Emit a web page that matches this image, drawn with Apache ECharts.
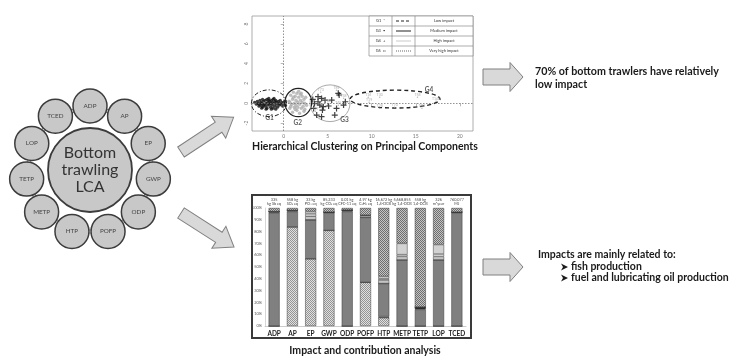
<!DOCTYPE html>
<html><head><meta charset="utf-8">
<script src="https://cdn.jsdelivr.net/npm/echarts@6/dist/echarts.min.js"></script>
<style>html,body{margin:0;padding:0;background:#fff}#c{width:736px;height:357px}</style>
</head><body><div id="c"></div><script>
// ---------- data ----------
const lcaCategories = ['ADP','AP','EP','GWP','ODP','POFP','HTP','METP','TETP','LOP','TCED'];
const lcaCenterLabel = 'Bottom\ntrawling\nLCA';

const pcaXTicks = [0,5,10,15,20];
const pcaYTicks = [-2,0,2,4,6,8];
const clusterG1 = [[-3.3,0.1],[-3.1,-0.1],[-3.0,0.2],[-2.9,0.0],[-2.8,-0.3],[-2.7,0.3],[-2.6,0.1],[-2.6,-0.2],[-2.5,0.0],[-2.4,0.4],[-2.4,-0.4],[-2.3,0.2],[-2.2,-0.1],[-2.1,0.3],[-2.1,-0.3],[-2.0,0.0],[-1.9,0.4],[-1.9,-0.5],[-1.8,0.1],[-1.8,-0.2],[-1.7,0.3],[-1.6,-0.1],[-1.6,0.2],[-1.5,-0.4],[-1.5,0.0],[-1.4,0.3],[-1.3,-0.2],[-1.3,0.1],[-1.2,0.4],[-1.2,-0.5],[-1.1,0.0],[-1.0,0.2],[-1.0,-0.3],[-0.9,0.3],[-0.8,-0.1],[-0.8,0.1],[-0.7,-0.4],[-0.6,0.2],[-0.5,0.0],[-0.5,-0.2],[-0.4,0.3],[-0.3,-0.1],[-0.2,0.1],[-0.1,-0.3],[0.0,0.0],[0.1,0.2],[0.2,-0.2],[-2.8,-0.1],[-2.3,-0.2],[-1.4,-0.6],[-2.0,-0.6],[-2.5,-0.5],[-0.9,-0.6],[-1.7,0.5],[-1.1,0.5]];
const clusterG2 = [[0.6,0.2],[0.7,-0.5],[0.8,0.8],[0.9,-0.1],[1.0,0.4],[1.0,-0.9],[1.1,1.1],[1.2,0.0],[1.2,-0.4],[1.3,0.7],[1.4,-0.2],[1.4,0.3],[1.5,-0.7],[1.5,1.0],[1.6,0.1],[1.6,-0.4],[1.7,0.6],[1.8,-0.1],[1.8,-1.0],[1.9,0.9],[1.9,0.3],[2.0,-0.5],[2.1,0.1],[2.1,0.7],[2.2,-0.3],[2.3,0.4],[2.3,-0.8],[2.4,0.0],[2.5,0.6],[2.6,-0.2],[0.8,-0.3],[1.3,-0.6],[1.7,1.2],[2.0,1.0],[1.1,0.6],[0.7,0.1],[2.4,-0.6]];
const clusterG3 = [[3.3,0.39],[3.9,0.66],[4.3,0.49],[4.7,0.32],[3.4,-0.52],[4.1,-0.18],[4.4,-0.69],[3.75,-1.19],[4.3,-1.36],[5.45,0.32],[6.2,1.0],[6.3,0.83],[6.0,-0.52],[5.8,-1.19],[7.0,0.15],[6.8,-0.18],[4.5,-0.35],[5.1,-0.28],[3.9,0.15],[3.5,-0.03]];
const sampleLabels = ['T73','T89','T60','T38','T27','T45','T16','T30','T19','T28','T70','T58','T82','T140'];
const samplePos = [[4.2,1.1],[6.0,1.3],[5.0,0.0],[6.8,0.5],[3.6,-0.8],[6.2,-0.2],[9.6,0.6],[10.9,0.6],[9.7,0.1],[10.9,-0.5],[12.6,-0.4],[15.2,0.6],[15.7,-0.5],[17.3,0.2]];
const clusterEllipses = [[-1.67,0.0,2.0,1.35],[1.66,0.07,1.52,1.43],[5.26,0.0,2.27,1.85],[12.65,0.42,5.1,0.9]];
const clusterNames = ['G1','G2','G3','G4'];
const clusterLabelPos = [[-1.6,-1.5],[1.6,-2.0],[6.9,-1.7],[16.5,1.3]];
const legendGroups = ['G1  *','G3  \u2022','G4  +','G5  \u25A1'];
const legendImpacts = ['Low impact','Medium impact','High impact','Very high impact'];

const impactCats = ['ADP','AP','EP','GWP','ODP','POFP','HTP','METP','TETP','LOP','TCED'];
const impactTotals = ['335\nkg Sb eq','558 kg\nSO\u2082 eq','33 kg\nPO\u2084 eq','85,233\nkg CO\u2082 eq','0.01 kg\nCFC-11 eq','4.97 kg\nC\u2082H\u2084 eq','16,672 kg\n1,4-DCB','5,668,855\nkg 1,4-DCB','558 kg\n1,4-DCB','326\nm\u00B2year','760,077\nMJ'];
const shareOnboard   = [0,84,57,81,0,37,7,0,0,0,0];
const shareBlackLow  = [0,0,0,0,0,0,1,0,0,0,0];
const shareDark      = [96,13,33,15,97,55,28,56,14,56,96];
const shareBlackMid  = [1,1,0,0.5,1.2,0,0,0,2,0,0.5];
const shareLight1    = [0,0,3,0,0,1.5,3,3,0,3,0];
const shareWhite     = [0,0,2,0,0,0.5,1,1.5,0,2,0];
const shareLight2    = [0,0,2,0,0,0,2,9.5,0,8,0];
const shareTop       = [3,2,3,3.5,1.8,6,58,30,84,31,3.5];

const conclusionTop = ['70% of bottom trawlers have relatively','low impact'];
const conclusionBottomHead = 'Impacts are mainly related to:';
const conclusionBullets = ['fish production','fuel and lubricating oil production'];
const titlePca = 'Hierarchical Clustering on Principal Components';
const titleBars = 'Impact and contribution analysis';

// ---------- helpers ----------
function checker(a, b) {
  const cv = document.createElement('canvas'); cv.width = 2; cv.height = 2;
  const g = cv.getContext('2d');
  g.fillStyle = a; g.fillRect(0,0,2,2);
  g.fillStyle = b; g.fillRect(0,0,1,1); g.fillRect(1,1,1,1);
  return { image: cv, repeat: 'repeat' };
}
const patLight = checker('#e0e0e0', '#949494');
const patDark = checker('#c4c4c4', '#6e6e6e');
const FONT = 'Lato, "Liberation Sans", Arial, sans-serif';
const ellipseStyles = [
  {color:'#222', width:1, dash:[4,2,1,2]},
  {color:'#222', width:1.2, dash:null},
  {color:'#aaa', width:1, dash:null},
  {color:'#222', width:1.4, dash:[4,3]}
];
function blockArrow(x, y, rot, len, sh, hh, hl) {
  return { type:'polygon', x:x, y:y, rotation:rot, z:10,
    shape:{points:[[0,-sh],[len-hl,-sh],[len-hl,-hh],[len,0],[len-hl,hh],[len-hl,sh],[0,sh]]},
    style:{fill:'#d9d9d9', stroke:'#808080', lineWidth:1} };
}
function barSeries(name, data, color) {
  return { name, type:'bar', stack:'lca', xAxisIndex:1, yAxisIndex:1, barWidth:11, data,
    itemStyle:{color, borderColor:'#3a3a3a', borderWidth:0.5}, silent:true };
}
function txt(t, x, y, size, extra) {
  return {type:'text', style:Object.assign({text:t, x:x, y:y, align:'left', verticalAlign:'middle', fontSize:size,
    fontWeight:'bold', fill:'#1a1a1a', fontFamily:FONT}, extra || {})};
}

// ---------- graphics ----------
const graphics = [];
graphics.push(blockArrow(181,152,0.583,63,6,13,18));
graphics.push(blockArrow(181,213,-0.57,63,6,13,18));
graphics.push(blockArrow(483,77,0,40,8,14.5,13));
graphics.push(blockArrow(483,267,0,40,8,14.5,13));
// legend table
const lx0=369, lx1=392, lx2=415, lx3=473, ly0=16, rh=10;
graphics.push({type:'rect', shape:{x:lx0,y:ly0,width:lx3-lx0,height:rh*4}, style:{fill:'#fff',stroke:'#777',lineWidth:0.6}, z:5});
[lx1,lx2].forEach(x=>graphics.push({type:'line', shape:{x1:x,y1:ly0,x2:x,y2:ly0+rh*4}, style:{stroke:'#777',lineWidth:0.6}, z:6}));
[1,2,3].forEach(i=>graphics.push({type:'line', shape:{x1:lx0,y1:ly0+rh*i,x2:lx3,y2:ly0+rh*i}, style:{stroke:'#777',lineWidth:0.6}, z:6}));
const sampleStyles = [{stroke:'#222',lineWidth:1,lineDash:[3,2]},{stroke:'#222',lineWidth:1},{stroke:'#bbb',lineWidth:0.8},{stroke:'#444',lineWidth:0.8,lineDash:[1,1]}];
for (let i=0;i<4;i++){
  const cy = ly0 + rh*i + rh/2;
  graphics.push({type:'text', z:7, style:{text:legendGroups[i], x:(lx0+lx1)/2, y:cy, align:'center', verticalAlign:'middle', fontSize:4, fill:'#333', fontFamily:FONT}});
  graphics.push({type:'line', z:7, shape:{x1:lx1+4,y1:cy,x2:lx2-4,y2:cy}, style:sampleStyles[i]});
  graphics.push({type:'text', z:7, style:{text:legendImpacts[i], x:(lx2+lx3)/2, y:cy, align:'center', verticalAlign:'middle', fontSize:4, fill:'#333', fontFamily:FONT}});
}
// titles
graphics.push(txt(titlePca, 365, 147, 10.5, {align:'center'}));
graphics.push(txt(titleBars, 365, 351, 10.5, {align:'center'}));
// conclusions
conclusionTop.forEach((t,i)=>graphics.push(txt(t, 535, 72+i*13, 10.7)));
graphics.push(txt(conclusionBottomHead, 538, 255, 10.5));
conclusionBullets.forEach((t,i)=>{
  const y = 267 + i*11;
  graphics.push({type:'polygon', shape:{points:[[561,y-3.5],[568,y],[561,y+3.5],[563,y]]}, style:{fill:'#1a1a1a'}});
  graphics.push(txt(t, 571, y, 10.5));
});
// bar chart frame
graphics.push({type:'rect', shape:{x:252,y:195,width:219,height:143}, style:{fill:'none',stroke:'#3a3a3a',lineWidth:2}, z:20});

// ---------- chart ----------
const chart = echarts.init(document.getElementById('c'), null, {renderer:'canvas'});
const nodeRing = lcaCategories.concat([lcaCategories[0]]).map(c=>[1,c]);
const option = {
  backgroundColor:'#fff',
  animation:false,
  textStyle:{fontFamily:FONT},
  polar:{center:[90,170], radius:64},
  angleAxis:{type:'category', data:lcaCategories, startAngle:90+180/lcaCategories.length, clockwise:true, boundaryGap:true, show:false},
  radiusAxis:{min:0, max:1, show:false},
  grid:[
    {left:252, top:16, width:221, height:115, show:true, borderColor:'#999', borderWidth:0.8, backgroundColor:'transparent'},
    {left:265, top:208, width:201, height:118}
  ],
  xAxis:[
    {gridIndex:0, type:'value', min:-3.6, max:21.5, splitLine:{show:false}, axisLine:{show:false},
     axisTick:{show:true, customValues:pcaXTicks, length:3, lineStyle:{color:'#888', width:0.6}},
     axisLabel:{customValues:pcaXTicks, fontSize:5, color:'#777', margin:3}},
    {gridIndex:1, type:'category', data:impactCats, axisTick:{show:false}, axisLine:{lineStyle:{color:'#aaa',width:0.6}},
     axisLabel:{interval:0, fontSize:6.5, fontWeight:'bold', color:'#222', margin:4}},
    {gridIndex:1, type:'category', data:impactCats, position:'top', axisTick:{show:false}, axisLine:{show:false},
     axisLabel:{interval:0, fontSize:3.8, lineHeight:4.4, color:'#444', margin:2, formatter:(v,i)=>impactTotals[i]}}
  ],
  yAxis:[
    {gridIndex:0, type:'value', min:-2.8, max:8.8, splitLine:{show:false}, axisLine:{show:false},
     axisTick:{show:true, customValues:pcaYTicks, length:3, lineStyle:{color:'#888', width:0.6}},
     axisLabel:{customValues:pcaYTicks, fontSize:5, color:'#777', margin:3, rotate:90}},
    {gridIndex:1, type:'value', min:0, max:100, interval:10, splitLine:{show:false},
     axisLine:{show:true, lineStyle:{color:'#bbb', width:0.6}}, axisTick:{show:false},
     axisLabel:{fontSize:4, color:'#555', margin:3, formatter:'{value}%'}}
  ],
  graphic:graphics,
  series:[
    // LCA circle diagram
    {type:'line', coordinateSystem:'polar', silent:true, symbol:'none', z:1, data:nodeRing, lineStyle:{color:'#8a8a8a', width:4}},
    {type:'line', coordinateSystem:'polar', silent:true, symbol:'none', z:1, data:nodeRing, lineStyle:{color:'#ffffff', width:2}},
    {type:'scatter', coordinateSystem:'polar', silent:true, symbolSize:34, z:2,
     data:lcaCategories.map(c=>({name:c, value:[1,c]})),
     itemStyle:{color:'#c8c8c8', borderColor:'#3c3c3c', borderWidth:1.5, opacity:1},
     label:{show:true, position:'inside', formatter:'{b}', fontSize:6.3, color:'#444'}},
    {type:'scatter', coordinateSystem:'polar', silent:true, symbolSize:84, z:2,
     data:[{name:lcaCenterLabel, value:[0, lcaCategories[0]]}],
     itemStyle:{color:'#c8c8c8', borderColor:'#3c3c3c', borderWidth:1.8, opacity:1},
     label:{show:true, position:'inside', formatter:'{b}', fontSize:16, lineHeight:17, color:'#333'}},
    // PCA clusters
    {type:'scatter', xAxisIndex:0, yAxisIndex:0, data:clusterG2, symbolSize:3, silent:true,
     itemStyle:{color:'#b0b0b0', borderColor:'#999', borderWidth:0.3}},
    {type:'scatter', xAxisIndex:0, yAxisIndex:0, data:clusterG1, symbolSize:3.2, silent:true,
     itemStyle:{color:'#111'},
     markLine:{silent:true, symbol:'none', label:{show:false}, lineStyle:{type:[1.5,1.5], color:'#777', width:0.8},
       data:[{xAxis:0},{yAxis:0}]}},
    {type:'scatter', xAxisIndex:0, yAxisIndex:0, data:clusterG3, symbolSize:6, silent:true,
     symbol:'path://M-1,-5H1V-1H5V1H1V5H-1V1H-5V-1H-1Z', itemStyle:{color:'#111'}},
    {type:'scatter', xAxisIndex:0, yAxisIndex:0, symbolSize:1.5, silent:true, itemStyle:{color:'#aaa'},
     data:samplePos.map((p,i)=>({value:p, name:sampleLabels[i]})),
     label:{show:true, formatter:'{b}', position:'top', distance:0, fontSize:3.5, color:'#999'}},
    {type:'custom', xAxisIndex:0, yAxisIndex:0, silent:true, data:clusterEllipses,
     renderItem:(params, api)=>{
       const c = api.coord([api.value(0), api.value(1)]);
       const s = api.size([api.value(2), api.value(3)]);
       const st = ellipseStyles[params.dataIndex];
       return {type:'ellipse', shape:{cx:c[0], cy:c[1], rx:s[0], ry:s[1]},
         style:{fill:'none', stroke:st.color, lineWidth:st.width, lineDash:st.dash}};
     }},
    {type:'scatter', xAxisIndex:0, yAxisIndex:0, symbolSize:0, silent:true,
     data:clusterLabelPos.map((p,i)=>({value:p, name:clusterNames[i]})),
     label:{show:true, position:'inside', formatter:'{b}', fontSize:6.5, fontWeight:'bold', color:'#333'}},
    // stacked contribution bars
    barSeries('onboard', shareOnboard, patLight),
    barSeries('blackLow', shareBlackLow, '#333'),
    barSeries('dark', shareDark, '#808080'),
    barSeries('blackMid', shareBlackMid, '#2a2a2a'),
    barSeries('light1', shareLight1, '#c4c4c4'),
    barSeries('white', shareWhite, '#f2f2f2'),
    barSeries('light2', shareLight2, '#d2d2d2'),
    barSeries('top', shareTop, patDark)
  ]
};
chart.setOption(option);
</script></body></html>
